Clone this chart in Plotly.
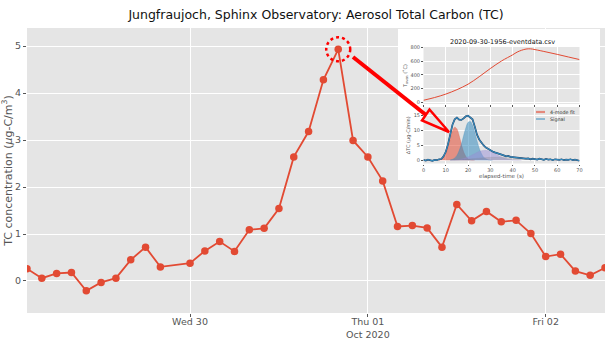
import plotly.graph_objects as go

# ---------------- main series (2-hourly TC) ----------------
times = [
    "2020-09-29 02:00", "2020-09-29 04:00", "2020-09-29 06:00", "2020-09-29 08:00",
    "2020-09-29 10:00", "2020-09-29 12:00", "2020-09-29 14:00", "2020-09-29 16:00",
    "2020-09-29 18:00", "2020-09-29 20:00",
    "2020-09-30 00:00", "2020-09-30 02:00", "2020-09-30 04:00", "2020-09-30 06:00",
    "2020-09-30 08:00", "2020-09-30 10:00", "2020-09-30 12:00", "2020-09-30 14:00",
    "2020-09-30 16:00", "2020-09-30 18:00", "2020-09-30 20:00", "2020-09-30 22:00",
    "2020-10-01 00:00", "2020-10-01 02:00", "2020-10-01 04:00", "2020-10-01 06:00",
    "2020-10-01 08:00", "2020-10-01 10:00", "2020-10-01 12:00", "2020-10-01 14:00",
    "2020-10-01 16:00", "2020-10-01 18:00", "2020-10-01 20:00", "2020-10-01 22:00",
    "2020-10-02 00:00", "2020-10-02 02:00", "2020-10-02 04:00", "2020-10-02 06:00",
    "2020-10-02 08:00",
]
tc = [
    0.26, 0.06, 0.16, 0.18, -0.21, -0.03, 0.06, 0.45, 0.72, 0.30,
    0.38, 0.64, 0.84, 0.63, 1.09, 1.12, 1.54, 2.64, 3.18, 4.28, 4.93, 2.99,
    2.64, 2.13, 1.16, 1.18, 1.13, 0.72, 1.63, 1.28, 1.48, 1.26, 1.29, 1.01,
    0.52, 0.57, 0.21, 0.12, 0.28,
]
x_tick_vals = ["2020-09-30", "2020-10-01", "2020-10-02"]
x_tick_text = ["Wed 30", "Thu 01<br>Oct 2020", "Fri 02"]
y_tick_vals = [0, 1, 2, 3, 4, 5]

# ---------------- inset: oven temperature ----------------
oven_t = [0, 5, 10, 15, 20, 25, 30, 35, 40, 42, 44, 46, 48, 50, 55, 60, 65, 70]
oven_T = [30, 70, 120, 185, 265, 375, 495, 605, 695, 735, 762, 780, 783, 772, 738, 702, 664, 626]

# ---------------- inset: signal and fit modes ----------------
sig_t = list(range(0, 71))
signal = [
    0.1, -0.1, 0.2, 0.0, -0.2, 0.1, 0.0, 0.3, 0.4, 1.3,
    2.8, 5.3, 8.6, 11.8, 13.6, 14.2, 13.5, 13.4, 13.9, 14.6,
    14.8, 14.3, 13.6, 11.2, 8.5, 6.9, 5.8, 4.9, 4.2, 3.7,
    3.2, 2.9, 2.6, 2.4, 2.0, 1.8, 1.6, 1.3, 1.4, 1.1,
    1.0, 1.1, 0.8, 0.9, 0.6, 0.7, 0.5, 0.6, 0.3, 0.5,
    0.4, 0.2, 0.5, 0.3, 0.1, 0.4, 0.2, 0.3, 0.0, 0.3,
    0.2, 0.1, 0.3, 0.0, 0.2, 0.1, 0.3, 0.0, 0.2, 0.1, -0.2,
]
mode1_t = [6, 7, 8, 9, 10, 11, 12, 13, 14, 15, 16, 17, 18, 19, 20, 21, 22, 23]
mode1 = [0, 0.1, 0.3, 0.9, 2.1, 4.2, 7.0, 9.7, 11.0, 10.4, 8.2, 5.3, 2.8, 1.25, 0.46, 0.15, 0.05, 0]
mode2_t = [12, 13, 14, 15, 16, 17, 18, 19, 20, 21, 22, 23, 24, 25, 26, 27, 28, 29, 30, 31]
mode2 = [0.1, 0.3, 0.75, 1.6, 3.2, 5.4, 8.2, 10.8, 12.6, 12.9, 11.7, 9.3, 6.5, 4.0, 2.2, 1.0, 0.45, 0.16, 0.05, 0]
mode3_t = [12, 14, 16, 18, 20, 22, 24, 26, 28, 30, 32, 34, 36, 38, 40, 42, 44]
mode3 = [0.03, 0.09, 0.23, 0.54, 1.07, 1.8, 2.6, 3.15, 3.3, 2.9, 2.2, 1.42, 0.78, 0.36, 0.14, 0.05, 0]
mode4_t = [10, 14, 18, 22, 26, 30, 34, 38, 42, 46, 50, 54, 58, 62]
mode4 = [0.04, 0.11, 0.25, 0.47, 0.74, 0.95, 1.0, 0.88, 0.65, 0.41, 0.22, 0.1, 0.04, 0]

inset_x_ticks = [0, 10, 20, 30, 40, 50, 60, 70]
oven_y_ticks = [0, 200, 400, 600, 800]
sig_y_ticks = [0, 5, 10, 15]

# ---------------- geometry helpers (pixel -> paper) ----------------
W, H = 609, 339
ML, MR, MT, MB = 27, 4, 28, 26
PW, PH = W - ML - MR, H - MT - MB


def PX(x):
    return (x - ML) / PW


def PY(y):
    return (H - MB - y) / PH


RED = "#E24A33"
BLUE = "#348ABD"
GRAY = "#555555"

fig = go.Figure()

# main trace
fig.add_trace(go.Scatter(
    x=times, y=tc, mode="lines+markers",
    line=dict(color=RED, width=1.8),
    marker=dict(size=7.5, color=RED),
    xaxis="x", yaxis="y", showlegend=False, hoverinfo="skip",
))

# white inset panel (empty subplot)
fig.add_trace(go.Scatter(x=[None], y=[None], xaxis="x2", yaxis="y2",
                         showlegend=False, hoverinfo="skip"))

# oven temperature
fig.add_trace(go.Scatter(
    x=oven_t, y=oven_T, mode="lines", line=dict(color=RED, width=1, shape="spline"),
    xaxis="x3", yaxis="y3", showlegend=False, hoverinfo="skip",
))

# fit modes
mode_specs = [
    (mode1_t, mode1, "rgba(226,74,51,0.55)"),
    (mode2_t, mode2, "rgba(52,138,189,0.55)"),
    (mode3_t, mode3, "rgba(152,142,213,0.5)"),
    (mode4_t, mode4, "rgba(119,119,119,0.22)"),
]
for mt, mv, col in mode_specs:
    fig.add_trace(go.Scatter(
        x=mt, y=mv, mode="lines", fill="tozeroy", fillcolor=col,
        line=dict(color=col, width=0.5, shape="spline"),
        xaxis="x4", yaxis="y4", showlegend=False, hoverinfo="skip",
    ))

# signal (dark outline + blue line)
fig.add_trace(go.Scatter(x=sig_t, y=signal, mode="lines",
                         line=dict(color="#2A3F5F", width=1.7),
                         xaxis="x4", yaxis="y4", showlegend=False, hoverinfo="skip"))
fig.add_trace(go.Scatter(x=sig_t, y=signal, mode="lines",
                         line=dict(color=BLUE, width=1.1),
                         xaxis="x4", yaxis="y4", showlegend=False, hoverinfo="skip"))

inset_axis = dict(
    showgrid=True, gridcolor="white", gridwidth=0.6, zeroline=False,
    ticks="outside", ticklen=1.5, tickwidth=0.5, tickcolor=GRAY,
    tickfont=dict(size=5, color=GRAY), showline=False, automargin=False,
)

peak_i = tc.index(max(tc))

fig.update_layout(
    width=W, height=H,
    margin=dict(l=ML, r=MR, t=MT, b=MB),
    paper_bgcolor="white", plot_bgcolor="#E5E5E5",
    font=dict(family="DejaVu Sans", color=GRAY),
    title=dict(text="Jungfraujoch, Sphinx Observatory: Aerosol Total Carbon (TC)",
               x=0.5, xref="paper", xanchor="center",
               y=1 - 15 / H, yanchor="middle",
               font=dict(size=12.5, color="#111111")),
    xaxis=dict(
        type="date", range=[times[0], times[-1]], domain=[0, 1], anchor="y",
        tickvals=x_tick_vals, ticktext=x_tick_text, automargin=False,
        showgrid=True, gridcolor="white", gridwidth=1, zeroline=False,
        ticks="outside", ticklen=3, tickcolor=GRAY, ticklabelstandoff=-3,
        tickfont=dict(size=9.5, color=GRAY),
    ),
    yaxis=dict(
        range=[-0.681, 5.383], domain=[0, 1], anchor="x", automargin=False,
        tickvals=y_tick_vals,
        showgrid=True, gridcolor="white", gridwidth=1, zeroline=False,
        ticks="outside", ticklen=3, tickcolor=GRAY,
        tickfont=dict(size=9.5, color=GRAY),
        title=dict(text="TC concentration (<i>µ</i>g-C/m<sup>3</sup>)",
                   font=dict(size=11, color=GRAY), standoff=3),
    ),
    xaxis2=dict(domain=[PX(398), PX(600)], range=[0, 1], anchor="y2", visible=False),
    yaxis2=dict(domain=[PY(180), PY(29)], range=[0, 1], anchor="x2", visible=False),
    xaxis3=dict(domain=[PX(423.5), PX(579.5)], range=[0, 70], anchor="y3",
                tickvals=inset_x_ticks, showticklabels=False, **inset_axis),
    yaxis3=dict(domain=[PY(104), PY(47)], range=[-25, 810], anchor="x3",
                tickvals=oven_y_ticks,
                title=dict(text="T<sub>oven</sub> (˚C)", font=dict(size=5, color=GRAY), standoff=2),
                **inset_axis),
    xaxis4=dict(domain=[PX(423.5), PX(579.5)], range=[0, 70], anchor="y4",
                tickvals=inset_x_ticks,
                title=dict(text="elapsed-time (s)", font=dict(size=5.5, color=GRAY), standoff=1),
                **inset_axis),
    yaxis4=dict(domain=[PY(163.5), PY(107)], range=[-1.1, 17.7], anchor="x4",
                tickvals=sig_y_ticks,
                title=dict(text="ΔTC (µg-C/min)", font=dict(size=5, color=GRAY), standoff=2),
                **inset_axis),
)

shapes = [
    # white panel behind inset
    dict(type="rect", xref="x2", yref="y2", x0=0, x1=1, y0=0, y1=1,
         fillcolor="white", line=dict(width=0), layer="below"),
    # dotted circle around the peak
    dict(type="circle", xref="x", yref="y", xsizemode="pixel", ysizemode="pixel",
         xanchor=times[peak_i], yanchor=tc[peak_i], x0=-12, x1=12, y0=-12, y1=12,
         line=dict(color="#FF0000", width=2.5, dash="dot"), layer="above"),
    # arrow shaft
    dict(type="line", xref="paper", yref="paper",
         x0=PX(353), y0=PY(57), x1=PX(426), y1=PY(115),
         line=dict(color="#FF0000", width=4), layer="above"),
    # hollow arrow head
    dict(type="path", xref="paper", yref="paper",
         path=(f"M {PX(429.5)},{PY(109.5)} L {PX(449)},{PY(132)} "
               f"L {PX(422)},{PY(120.5)} Z"),
         line=dict(color="#FF0000", width=2.5), fillcolor="rgba(0,0,0,0)", layer="above"),
    # inset legend samples
    dict(type="line", xref="paper", yref="paper",
         x0=PX(536), x1=PX(545), y0=PY(112), y1=PY(112),
         line=dict(color="rgba(226,74,51,0.6)", width=2.2), layer="above"),
    dict(type="line", xref="paper", yref="paper",
         x0=PX(536), x1=PX(545), y0=PY(119), y1=PY(119),
         line=dict(color=BLUE, width=1), layer="above"),
]
fig.update_layout(shapes=shapes)

annotations = [
    dict(text="2020-09-30-1956-eventdata.csv", xref="paper", yref="paper",
         x=PX(502), y=PY(42), xanchor="center", yanchor="middle", showarrow=False,
         font=dict(size=6.5, color="#111111")),
    dict(text="4-mode fit", xref="paper", yref="paper", x=PX(548), y=PY(112),
         xanchor="left", yanchor="middle", showarrow=False,
         font=dict(size=4.8, color="#333333")),
    dict(text="Signal", xref="paper", yref="paper", x=PX(548), y=PY(119),
         xanchor="left", yanchor="middle", showarrow=False,
         font=dict(size=4.8, color="#333333")),
]
fig.update_layout(annotations=annotations)

fig.write_html("out.html")
